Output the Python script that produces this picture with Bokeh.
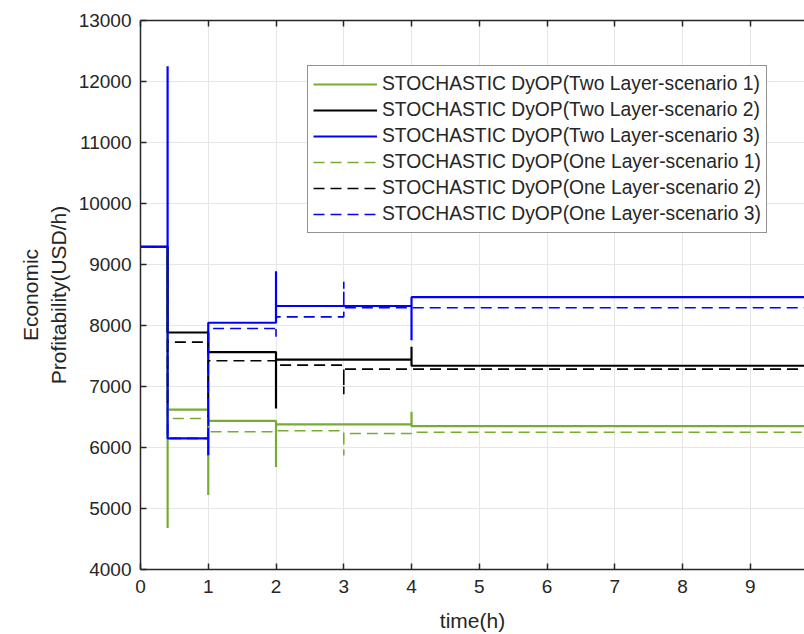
from bokeh.plotting import figure
from bokeh.models import LinearAxis, FixedTicker, Range1d
from bokeh.embed import file_html
from bokeh.resources import INLINE

# time breakpoints (h) and end of simulated horizon
breaks = [0.4, 1, 2, 3, 4]
t_end = 10.0

# Levels per segment [0,0.4],[0.4,1],[1,2],[2,3],[3,4],[4,end] and transient spikes at each break
two_s1_levels = [9290, 6620, 6435, 6380, 6380, 6350]
two_s1_spikes = [4680, 5220, 5680, None, 6585]
two_s2_levels = [9290, 7885, 7565, 7440, 7440, 7340]
two_s2_spikes = [None, None, 6640, None, 7650]
two_s3_levels = [9290, 6150, 8045, 8320, 8320, 8465]
two_s3_spikes = [12250, 5875, 8890, None, 7760]
one_s1_levels = [9290, 6476, 6258, 6275, 6230, 6250]
one_s1_spikes = [None, None, None, 5870, None]
one_s2_levels = [9290, 7727, 7421, 7350, 7285, 7285]
one_s2_spikes = [6700, 6800, None, 6874, None]
one_s3_levels = [9290, 6150, 7951, 8142, 8292, 8290]
one_s3_spikes = [None, None, 7814, 8716, None]

x_ticks = [0, 1, 2, 3, 4, 5, 6, 7, 8, 9]
y_ticks = [4000, 5000, 6000, 7000, 8000, 9000, 10000, 11000, 12000, 13000]

GREEN = "#77AC30"
BLACK = "#000000"
BLUE = "#0000FF"


def step_path(levels, spikes):
    xs, ys = [0.0], [levels[0]]
    for i, b in enumerate(breaks):
        xs.append(b); ys.append(levels[i])
        if spikes[i] is not None:
            xs.append(b); ys.append(spikes[i])
        xs.append(b); ys.append(levels[i + 1])
    xs.append(t_end); ys.append(levels[-1])
    return xs, ys


FONT = "Liberation Sans"
TXT = "#262626"

p = figure(width=804, height=634, output_backend="svg", toolbar_location=None,
           x_range=Range1d(0, 9.8), y_range=Range1d(4000, 13000),
           min_border_left=140, min_border_right=0, min_border_top=20, min_border_bottom=64)
p.outline_line_color = None
p.background_fill_color = "white"
p.border_fill_color = "white"

series = [
    (two_s1_levels, two_s1_spikes, GREEN, "solid", 2.2, "STOCHASTIC DyOP(Two Layer-scenario 1)"),
    (two_s2_levels, two_s2_spikes, BLACK, "solid", 2.2, "STOCHASTIC DyOP(Two Layer-scenario 2)"),
    (two_s3_levels, two_s3_spikes, BLUE, "solid", 2.2, "STOCHASTIC DyOP(Two Layer-scenario 3)"),
    (one_s1_levels, one_s1_spikes, GREEN, "11 6", 1.6, "STOCHASTIC DyOP(One Layer-scenario 1)"),
    (one_s2_levels, one_s2_spikes, BLACK, "11 6", 1.6, "STOCHASTIC DyOP(One Layer-scenario 2)"),
    (one_s3_levels, one_s3_spikes, BLUE, "11 6", 1.6, "STOCHASTIC DyOP(One Layer-scenario 3)"),
]
for lv, sp, col, dash, lw, lab in series:
    xs, ys = step_path(lv, sp)
    p.line(xs, ys, line_color=col, line_dash=dash, line_width=lw, legend_label=lab)

# grid
for g in (p.xgrid[0], p.ygrid[0]):
    g.grid_line_color = "#e6e6e6"
    g.grid_line_width = 1
p.xgrid[0].ticker = FixedTicker(ticks=x_ticks)
p.ygrid[0].ticker = FixedTicker(ticks=y_ticks)

# axes
xa = p.xaxis[0]
ya = p.yaxis[0]
xa.ticker = FixedTicker(ticks=x_ticks)
ya.ticker = FixedTicker(ticks=y_ticks)
for ax in (xa, ya):
    ax.axis_line_color = TXT
    ax.axis_line_width = 1.5
    ax.major_tick_line_color = TXT
    ax.major_tick_line_width = 1.5
    ax.major_tick_in = 6
    ax.major_tick_out = 0
    ax.minor_tick_line_color = None
    ax.major_label_text_font = FONT
    ax.major_label_text_font_size = "19px"
    ax.major_label_text_color = TXT
    ax.axis_label_text_font = FONT
    ax.axis_label_text_font_size = "21px"
    ax.axis_label_text_font_style = "normal"
    ax.axis_label_text_color = TXT
xa.axis_label = "time(h)"
ya.axis_label = "Economic\nProfitability(USD/h)"
xa.major_label_standoff = 10
ya.major_label_standoff = 9
xa.axis_label_standoff = 13
ya.axis_label_standoff = 6

top = LinearAxis(ticker=FixedTicker(ticks=x_ticks))
top.axis_line_color = TXT
top.axis_line_width = 1.5
top.major_tick_line_color = TXT
top.major_tick_line_width = 1.5
top.major_tick_in = 6
top.major_tick_out = 0
top.minor_tick_line_color = None
top.major_label_overrides = {t: "" for t in x_ticks}
top.major_label_standoff = 0
p.add_layout(top, "above")

# legend
lg = p.legend[0]
lg.location = (167, 336)
lg.label_text_font = FONT
lg.label_text_font_size = "19.3px"
lg.label_text_color = TXT
lg.glyph_width = 64
lg.glyph_height = 26
lg.label_height = 26
lg.label_standoff = 5
lg.spacing = 0
lg.padding = 5
lg.margin = 0
lg.border_line_color = "#262626"
lg.border_line_width = 1
lg.background_fill_alpha = 1.0

open("out.html", "w").write(file_html(p, INLINE))
